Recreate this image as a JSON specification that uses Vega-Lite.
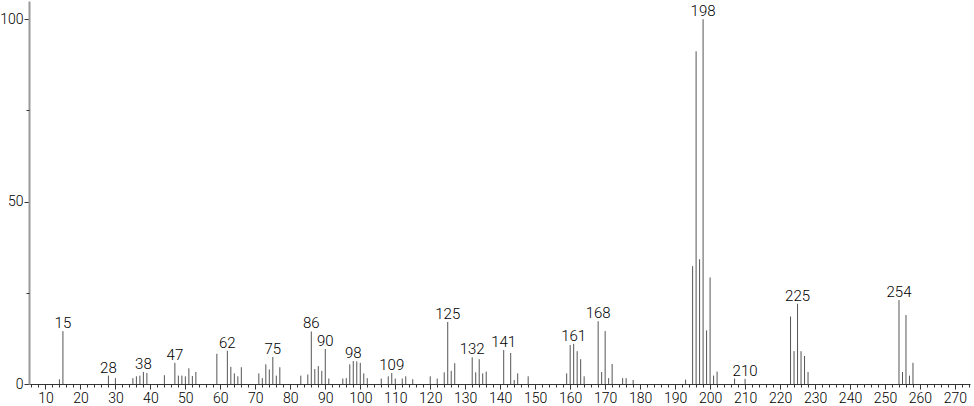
{
  "$schema": "https://vega.github.io/schema/vega-lite/v6.json",
  "autosize": {"type": "none"},
  "padding": {"left": 29, "top": 1, "right": 4, "bottom": 22},
  "width": 941,
  "height": 383,
  "background": "white",
  "config": {
    "view": {"stroke": null},
    "axis": {"grid": false, "labelFont": "Roboto", "labelFontWeight": 300, "labelColor": "#000", "tickColor": "#333"}
  },
  "data": {"values": [
    {"mz": 14, "i": 1.3}, {"mz": 15, "i": 14.5, "lab": "15"}, {"mz": 28, "i": 2.3, "lab": "28"}, {"mz": 30, "i": 1.6},
    {"mz": 35, "i": 1.6}, {"mz": 36, "i": 2.1}, {"mz": 37, "i": 2.3}, {"mz": 38, "i": 3.3, "lab": "38"}, {"mz": 39, "i": 3.0},
    {"mz": 44, "i": 2.4}, {"mz": 47, "i": 5.8, "lab": "47"}, {"mz": 48, "i": 2.3}, {"mz": 49, "i": 2.3}, {"mz": 50, "i": 2.1},
    {"mz": 51, "i": 4.3}, {"mz": 52, "i": 2.2}, {"mz": 53, "i": 3.3}, {"mz": 59, "i": 8.3}, {"mz": 62, "i": 9.1, "lab": "62"},
    {"mz": 63, "i": 4.7}, {"mz": 64, "i": 2.9}, {"mz": 65, "i": 2.1}, {"mz": 66, "i": 4.6}, {"mz": 71, "i": 2.9},
    {"mz": 72, "i": 1.6}, {"mz": 73, "i": 5.4}, {"mz": 74, "i": 4.0}, {"mz": 75, "i": 7.4, "lab": "75"}, {"mz": 76, "i": 2.3},
    {"mz": 77, "i": 4.6}, {"mz": 83, "i": 2.3}, {"mz": 85, "i": 2.6}, {"mz": 86, "i": 14.4, "lab": "86"}, {"mz": 87, "i": 4.1},
    {"mz": 88, "i": 4.9}, {"mz": 89, "i": 3.6}, {"mz": 90, "i": 9.6, "lab": "90"}, {"mz": 91, "i": 1.5}, {"mz": 95, "i": 1.5},
    {"mz": 96, "i": 1.6}, {"mz": 97, "i": 5.4}, {"mz": 98, "i": 6.3, "lab": "98"}, {"mz": 99, "i": 6.2}, {"mz": 100, "i": 5.8},
    {"mz": 101, "i": 2.9}, {"mz": 102, "i": 1.6}, {"mz": 106, "i": 1.5}, {"mz": 108, "i": 2.1}, {"mz": 109, "i": 3.0, "lab": "109"},
    {"mz": 110, "i": 1.5}, {"mz": 112, "i": 1.5}, {"mz": 113, "i": 2.1}, {"mz": 115, "i": 1.3}, {"mz": 120, "i": 2.1},
    {"mz": 122, "i": 1.5}, {"mz": 124, "i": 3.2}, {"mz": 125, "i": 17.0, "lab": "125"}, {"mz": 126, "i": 3.6}, {"mz": 127, "i": 5.7},
    {"mz": 132, "i": 7.3, "lab": "132"}, {"mz": 133, "i": 3.2}, {"mz": 134, "i": 6.8}, {"mz": 135, "i": 2.9}, {"mz": 136, "i": 3.4},
    {"mz": 141, "i": 9.3, "lab": "141"}, {"mz": 143, "i": 8.5}, {"mz": 144, "i": 1.1}, {"mz": 145, "i": 2.9}, {"mz": 148, "i": 2.1},
    {"mz": 159, "i": 2.9}, {"mz": 160, "i": 10.7}, {"mz": 161, "i": 11.0, "lab": "161"}, {"mz": 162, "i": 9.0}, {"mz": 163, "i": 6.8},
    {"mz": 164, "i": 2.1}, {"mz": 168, "i": 17.2, "lab": "168"}, {"mz": 169, "i": 3.3}, {"mz": 170, "i": 14.5}, {"mz": 171, "i": 1.6},
    {"mz": 172, "i": 5.5}, {"mz": 175, "i": 1.6}, {"mz": 176, "i": 1.6}, {"mz": 178, "i": 1.1}, {"mz": 193, "i": 1.2},
    {"mz": 195, "i": 32.3}, {"mz": 196, "i": 91.2}, {"mz": 197, "i": 34.2}, {"mz": 198, "i": 100, "lab": "198"}, {"mz": 199, "i": 14.7},
    {"mz": 200, "i": 29.2}, {"mz": 201, "i": 2.3}, {"mz": 202, "i": 3.4}, {"mz": 207, "i": 1.5}, {"mz": 210, "i": 1.4, "lab": "210"},
    {"mz": 223, "i": 18.5}, {"mz": 224, "i": 9.0}, {"mz": 225, "i": 22.0, "lab": "225"}, {"mz": 226, "i": 9.0}, {"mz": 227, "i": 7.7},
    {"mz": 228, "i": 3.3}, {"mz": 254, "i": 23.0, "lab": "254"}, {"mz": 255, "i": 3.3}, {"mz": 256, "i": 18.9}, {"mz": 257, "i": 2.3},
    {"mz": 258, "i": 5.8}
  ]},
  "resolve": {"axis": {"x": "independent", "y": "independent"}},
  "layer": [
    {
      "mark": {"type": "rule", "color": "#555", "strokeWidth": 1},
      "encoding": {
        "x": {"field": "mz", "type": "quantitative",
              "scale": {"domain": [5.3, 274.3], "nice": false, "zero": false},
              "axis": {"orient": "bottom", "title": null, "values": [10,20,30,40,50,60,70,80,90,100,110,120,130,140,150,160,170,180,190,200,210,220,230,240,250,260,270],
                       "tickSize": 5, "domainColor": "#333", "labelFontSize": 14, "labelPadding": 2, "labelFlush": false, "labelOverlap": false}},
        "y": {"field": "i", "type": "quantitative",
              "scale": {"domain": [0, 105], "nice": false},
              "axis": {"orient": "left", "title": null, "values": [0, 50, 100], "tickSize": 5, "domainColor": "#999", "domainWidth": 2,
                       "labelFontSize": 14, "labelPadding": 1, "labelFlush": false}},
        "y2": {"datum": 0}
      }
    },
    {
      "mark": {"type": "rule", "opacity": 0},
      "encoding": {
        "x": {"field": "mz", "type": "quantitative",
              "axis": {"orient": "bottom", "title": null, "labels": false, "domain": false, "tickSize": 3,
                       "values": [6,8,12,14,16,18,22,24,26,28,32,34,36,38,42,44,46,48,52,54,56,58,62,64,66,68,72,74,76,78,82,84,86,88,92,94,96,98,102,104,106,108,112,114,116,118,122,124,126,128,132,134,136,138,142,144,146,148,152,154,156,158,162,164,166,168,172,174,176,178,182,184,186,188,192,194,196,198,202,204,206,208,212,214,216,218,222,224,226,228,232,234,236,238,242,244,246,248,252,254,256,258,262,264,266,268,272,274]}},
        "y": {"field": "i", "type": "quantitative",
              "axis": {"orient": "left", "title": null, "labels": false, "domain": false, "tickSize": 3, "values": [25, 75]}}
      }
    },
    {
      "transform": [{"filter": "datum.lab"}],
      "mark": {"type": "text", "font": "Roboto", "fontWeight": 300, "fontSize": 15, "color": "#000", "baseline": "alphabetic", "align": "center", "dy": -3},
      "encoding": {
        "x": {"field": "mz", "type": "quantitative", "axis": null},
        "y": {"field": "i", "type": "quantitative", "axis": null},
        "text": {"field": "lab"}
      }
    }
  ]
}
